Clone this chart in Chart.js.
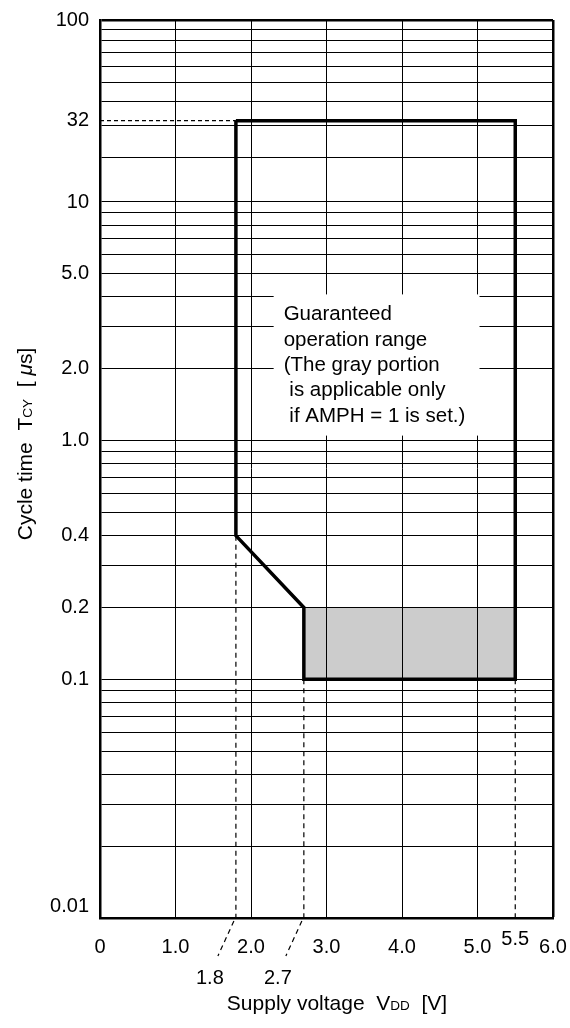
<!DOCTYPE html>
<html>
<head>
<meta charset="utf-8">
<script src="https://cdn.jsdelivr.net/npm/chart.js@4.4.1/dist/chart.umd.min.js"></script>
<style>
  html, body { margin: 0; padding: 0; background: #fff; }
</style>
</head>
<body>
<canvas id="myChart" width="570" height="1028"></canvas>
<script>
const voltMin = 0, voltMax = 6;
const cycleMin = 0.01, cycleMax = 100;

const xTickValues = [0, 1, 2, 3, 4, 5, 6];
const xTickLabels = ['0', '1.0', '2.0', '3.0', '4.0', '5.0', '6.0'];

const yGridValues = [
  0.01, 0.02, 0.03, 0.04, 0.05, 0.06, 0.07, 0.08, 0.09,
  0.1, 0.2, 0.3, 0.4, 0.5, 0.6, 0.7, 0.8, 0.9,
  1, 2, 3, 4, 5, 6, 7, 8, 9,
  10, 20, 30, 40, 50, 60, 70, 80, 90, 100
];
const yTickValues = [0.01, 0.1, 0.2, 0.4, 1, 2, 5, 10, 32, 100];
const yTickLabels = ['0.01', '0.1', '0.2', '0.4', '1.0', '2.0', '5.0', '10', '32', '100'];

// guaranteed operation range (outline)
const rangeVoltage = [1.8, 5.5, 5.5, 2.7, 2.7, 1.8, 1.8];
const rangeCycle   = [32, 32, 0.1, 0.1, 0.2, 0.4, 32];

// gray part, only with AMPH = 1
const amphVoltage = [2.7, 5.5, 5.5, 2.7];
const amphCycle   = [0.2, 0.2, 0.1, 0.1];

const maxCycle = 32;
const markVoltages = [1.8, 2.7, 5.5];
const markCycles   = [0.4, 0.1, 0.1];
const markLabels   = ['1.8', '2.7', '5.5'];

const noteLines = [
  'Guaranteed',
  'operation range',
  '(The gray portion',
  ' is applicable only',
  ' if AMPH = 1 is set.)'
];

const FONT = "'Liberation Sans', Arial, Helvetica, sans-serif";
Chart.defaults.font.family = FONT;
Chart.defaults.color = '#000';

// log axis whose top decade (10..100) is drawn shorter, as in the data sheet
const TOP_K = 0.7625, TOP_P = 1.18;
function decades(v) {
  const l = Math.log10(v);
  return l <= 1 ? l : 1 + TOP_K * Math.pow(l - 1, TOP_P);
}
function undecades(u) {
  return u <= 1 ? Math.pow(10, u) : Math.pow(10, 1 + Math.pow((u - 1) / TOP_K, 1 / TOP_P));
}

class WarpedLogScale extends Chart.LogarithmicScale {
  getPixelForValue(value) {
    if (value === undefined || value === 0) value = this.min;
    if (value === null || isNaN(value)) return NaN;
    const u0 = decades(this.min), u1 = decades(this.max);
    return this.getPixelForDecimal((decades(value) - u0) / (u1 - u0));
  }
  getValueForPixel(pixel) {
    const u0 = decades(this.min), u1 = decades(this.max);
    return undecades(u0 + this.getDecimalForPixel(pixel) * (u1 - u0));
  }
}
WarpedLogScale.id = 'warpedLog';
WarpedLogScale.defaults = Chart.LogarithmicScale.defaults;
Chart.register(WarpedLogScale);

function pts(xs, ys) {
  return xs.map((v, i) => ({ x: v, y: ys[i] }));
}

function drawParts(ctx, parts, x, y, align) {
  let total = 0;
  parts.forEach(p => {
    ctx.font = (p.style || '') + ' ' + p.size + 'px ' + FONT;
    p.w = ctx.measureText(p.text).width;
    total += p.w;
  });
  let cx = align === 'center' ? x - total / 2 : x;
  ctx.textAlign = 'left';
  ctx.textBaseline = 'alphabetic';
  parts.forEach(p => {
    ctx.font = (p.style || '') + ' ' + p.size + 'px ' + FONT;
    ctx.fillText(p.text, cx, y);
    cx += p.w;
  });
}

const overlay = {
  id: 'overlay',
  beforeDatasetsDraw(chart) {
    const { ctx, scales: { x, y } } = chart;
    const l = x.getPixelForValue(2.3), r = x.getPixelForValue(5.0) + 2;
    const t = y.getPixelForValue(4.1), b = y.getPixelForValue(1.05);
    ctx.save();
    ctx.fillStyle = '#fff';
    ctx.fillRect(l, t, r - l, b - t);
    ctx.restore();
  },
  afterDraw(chart) {
    const { ctx, chartArea, scales: { x, y } } = chart;
    ctx.save();
    ctx.fillStyle = '#000';

    // note
    const nl = x.getPixelForValue(2.3) + 10;
    const nt = y.getPixelForValue(4.1) + 26;
    ctx.font = '20.5px ' + FONT;
    ctx.textAlign = 'left';
    ctx.textBaseline = 'alphabetic';
    noteLines.forEach((s, i) => ctx.fillText(s, nl, nt + i * 25.3));

    // extra voltage marks under the axis
    ctx.font = '20px ' + FONT;
    ctx.textAlign = 'center';
    markVoltages.forEach((v, i) => {
      const px = x.getPixelForValue(v);
      const near = Math.abs(v - Math.round(v)) < 0.35;
      if (near) {
        ctx.strokeStyle = '#000';
        ctx.lineWidth = 1.2;
        ctx.setLineDash([5, 4]);
        ctx.beginPath();
        ctx.moveTo(px - 2, chartArea.bottom + 3);
        ctx.lineTo(px - 18, chartArea.bottom + 38);
        ctx.stroke();
        ctx.setLineDash([]);
        ctx.fillText(markLabels[i], px - 26, chartArea.bottom + 66);
      } else {
        ctx.fillText(markLabels[i], px, chartArea.bottom + 27);
      }
    });

    // axis titles
    drawParts(ctx, [
      { text: 'Supply voltage  V', size: 21 },
      { text: 'DD', size: 13.5 },
      { text: '  [V]', size: 21 }
    ], (chartArea.left + chartArea.right) / 2 + 10.5, 1010, 'center');

    ctx.translate(32, 444);
    ctx.rotate(-Math.PI / 2);
    drawParts(ctx, [
      { text: 'Cycle time  T', size: 21 },
      { text: 'CY', size: 13.5 },
      { text: '  [ ', size: 21 },
      { text: 'μ', size: 21, style: 'italic' },
      { text: 's]', size: 21 }
    ], 0, 0, 'center');
    ctx.restore();
  }
};

const dashed = { showLine: true, borderColor: '#000', borderWidth: 1.2, borderDash: [5, 4], pointRadius: 0, fill: false };

const ctx = document.getElementById('myChart');
new Chart(ctx, {
  type: 'scatter',
  data: {
    datasets: [
      {
        label: 'Guaranteed operation range',
        data: pts(rangeVoltage, rangeCycle),
        showLine: true,
        borderColor: '#000',
        borderWidth: 3.5,
        borderJoinStyle: 'miter',
        pointRadius: 0,
        fill: false
      },
      Object.assign({}, dashed, {
        data: [{ x: voltMin, y: maxCycle }, { x: markVoltages[0], y: maxCycle }],
        borderDash: [4, 3]
      }),
      ...markVoltages.map((v, i) => Object.assign({ data: [{ x: v, y: markCycles[i] }, { x: v, y: cycleMin }] }, dashed)),
      {
        label: 'AMPH = 1',
        data: pts(amphVoltage, amphCycle),
        showLine: true,
        borderColor: 'rgba(0,0,0,0)',
        borderWidth: 0,
        backgroundColor: 'rgba(0,0,0,0.2)',
        fill: 'shape',
        pointRadius: 0
      }
    ]
  },
  options: {
    responsive: false,
    animation: false,
    events: [],
    layout: { padding: { top: 20, right: 17, left: 0, bottom: 0 } },
    plugins: { legend: { display: false }, tooltip: { enabled: false } },
    scales: {
      x: {
        type: 'linear',
        min: voltMin,
        max: voltMax,
        bounds: 'data',
        afterBuildTicks: s => { s.ticks = xTickValues.map(v => ({ value: v })); },
        afterFit: s => { s.height = 110; s.paddingLeft = 0; s.paddingRight = 0; },
        ticks: {
          autoSkip: false,
          maxRotation: 0,
          padding: 17,
          font: { size: 20 },
          callback: (v, i) => xTickLabels[xTickValues.indexOf(v)]
        },
        grid: {
          drawTicks: false,
          color: '#000',
          lineWidth: c => (c.tick && c.tick.value === voltMax ? 2.5 : 1)
        },
        border: { display: true, color: '#000', width: 2.5 }
      },
      y: {
        type: 'warpedLog',
        min: cycleMin,
        max: cycleMax,
        bounds: 'data',
        afterBuildTicks: s => {
          s.ticks = [...yGridValues, maxCycle].sort((a, b) => a - b).map(v => ({ value: v }));
        },
        afterFit: s => { s.width = 100; s.paddingTop = 0; s.paddingBottom = 0; },
        ticks: {
          autoSkip: false,
          padding: 11,
          font: { size: 20 },
          major: { enabled: false },
          callback: v => {
            const i = yTickValues.indexOf(v);
            if (i < 0) return '';
            // lowest label sits a little above its line
            return v === cycleMin ? [yTickLabels[i], ''] : yTickLabels[i];
          }
        },
        grid: {
          drawTicks: false,
          color: c => (c.tick && c.tick.value === maxCycle ? 'rgba(0,0,0,0)' : '#000'),
          lineWidth: c => (c.tick && c.tick.value === cycleMax ? 2.5 : 1)
        },
        border: { display: true, color: '#000', width: 2.5 }
      }
    }
  },
  plugins: [overlay]
});
</script>
</body>
</html>
